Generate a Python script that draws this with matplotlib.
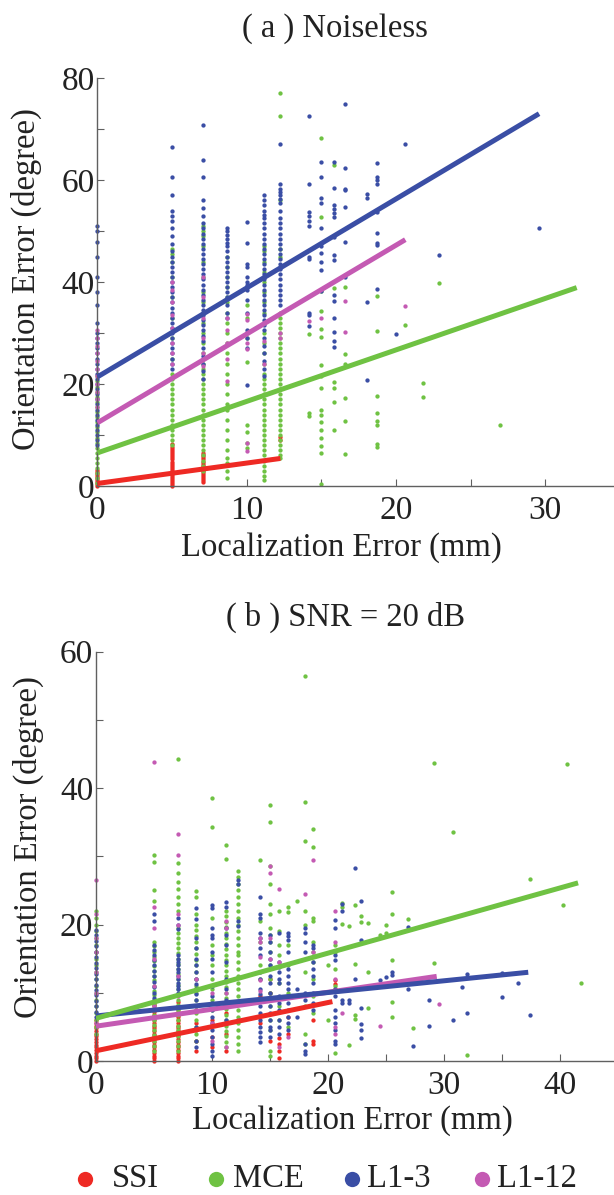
import matplotlib
matplotlib.use('Agg')
import matplotlib.pyplot as plt
from matplotlib.lines import Line2D

plt.rcParams['font.family'] = ['Liberation Serif', 'DejaVu Serif']

names = ['SSI', 'MCE', 'L1-3', 'L1-12']
colors = {'SSI': '#ee2a24', 'MCE': '#6fc243', 'L1-3': '#3a4ea5', 'L1-12': '#c45ab3'}

# ---- (a) noiseless: scatter columns, x (mm) -> orientation errors (deg)
a_ssi = {
    0: [0, 0.4, 0.8, 1.2, 1.6, 2.0, 2.4, 2.8, 3.2],
    5: [0, 0.4, 0.8, 1.2, 1.6, 2.0, 2.4, 2.8, 3.2, 3.6, 4.0, 4.4, 4.8, 5.2, 5.6, 6.0, 6.4, 6.8, 7.2, 7.6, 8.2],
    7.07: [0.8, 1.2, 1.6, 2.0, 2.4, 2.8, 3.2, 3.6, 4.0, 4.4, 4.8, 5.2, 5.6, 6.0, 6.5],
    12.25: [9.0, 9.6],
}
a_mce = {
    0: [0.5, 1.5, 2.5, 3.5, 4.5, 5.5, 6.5, 7.5, 8.5, 9.5, 10.5, 11.5, 12.5, 13.5, 14.5, 15.5, 16.5, 17.5, 18.5, 19.5, 20.5, 21.5],
    5: [46.5, 45.5, 44, 41, 37, 33, 29, 25, 22, 21, 20, 19, 18, 17, 16, 15, 14, 13, 12, 11, 10, 9, 8],
    7.07: [51, 50, 49, 47, 44, 41, 38, 36, 34, 32, 30, 28, 26, 25, 24, 23, 22, 21, 20, 19, 18, 17, 16, 15, 14, 13, 12, 11, 10, 9, 8, 7, 6, 5, 4, 3],
    8.66: [45, 43, 41, 39, 37, 36, 34, 32, 30, 28, 26, 24, 22, 20, 18, 16, 15, 13, 11, 9, 7, 5.5, 4.5, 3, 1.5],
    10: [35.5, 33, 29, 24.3, 12, 10.5, 8.5, 7.5],
    11.18: [47, 46, 44, 42, 40, 38, 36, 34, 32, 30, 28, 26, 24, 22, 21, 20, 19, 18, 17, 16, 15, 14, 13, 12, 11, 10, 9, 8, 7, 6, 5, 4, 3, 2, 1.2],
    12.25: [77, 72.5, 56, 46.5, 45, 34, 33, 32, 31, 30, 29, 28, 27, 26, 25, 24, 23, 22, 21, 20, 19, 18, 17, 16, 15, 14, 13, 12, 11, 10, 9, 8, 7, 6, 5.5],
    14.14: [29.8, 14.4, 13.8],
    15: [68.2, 52.8, 38.3, 34.4, 30.8, 29.2, 23.7, 21.6, 19.3, 15, 13.9, 12.6, 11, 9.4, 7.8, 6.5, 0.3],
    15.81: [62.9, 38.9, 20.3, 19.3, 16.4, 11.0],
    16.58: [39, 25.9, 24, 17.2, 12.7, 6.2],
    18.71: [37.3, 30.4, 17.7, 14.3, 12.7, 12, 8.2, 7.6],
    20.62: [31.6],
    21.79: [20.1, 17.4],
    22.91: [39.9],
    26.93: [12],
}
a_l13 = {
    0: [51, 50, 47.8, 45, 41, 38, 35.5, 32, 30, 29, 28, 27, 26, 25, 24, 23, 22, 21, 20, 19, 18, 17, 16, 15, 14, 13, 12, 11, 10, 9, 8],
    5: [66.5, 60.5, 57, 54, 53, 52, 50.5, 49, 47.5, 46, 45, 44, 43, 42, 41, 40, 39, 38, 37, 36, 35, 34, 33, 32, 31, 30, 29, 28, 27, 26, 25, 24, 23],
    7.07: [70.8, 64, 60.5, 56, 54.5, 53, 51.5, 50.5, 49.5, 48.5, 47.5, 46.5, 45.5, 44.5, 43.5, 42.5, 41.5, 40.5, 39.5, 38.5,
           37.5, 36.5, 35.5, 34.5, 33.5, 32.5, 31.5, 30.5, 29.5, 28.5, 27, 25.5, 24, 22.5, 21],
    8.66: [50.5, 50, 49.3, 48.5, 47.7, 47, 46, 45, 44, 43, 42, 41, 40, 39, 38, 37, 35.5, 34, 33],
    10: [51.7, 47.6, 43.6, 43, 41, 40, 39.5, 38.5, 36.5, 34, 30.5, 29, 27, 19.8],
    11.18: [57, 56, 55, 54, 53.2, 52.5, 51.5, 50.5, 49.5, 48.5, 47.5, 46.5, 45.5, 44.5, 43.5, 42.5, 41.5, 40.5, 39.5, 38.5,
            37.5, 36.5, 35.5, 34.5, 33.5, 32.5, 31.5, 30.5, 29, 27.5, 26, 24.5, 23, 21.5],
    12.25: [67, 59.3, 58.3, 57.6, 57, 56.3, 55.5, 54, 52.5, 51.5, 50.5, 49.5, 48.5, 47.5, 46.5, 45.5, 44.5, 43.5, 42.5, 41.5,
            40.5, 39.5, 38.5, 37.5, 36.5, 35.5],
    14.14: [72.6, 59.2, 53.8, 53, 52, 51, 45, 44.5, 34, 33.5, 31.4],
    15: [63.5, 60.5, 56.5, 55.4, 50.5, 47, 45.7, 44, 42.4, 38.3],
    15.81: [63.5, 58.4, 55, 54.4, 53.5, 52.8, 48.8, 45.3, 44.3, 37.5, 36.2, 33, 30.2, 28.5, 27.3],
    16.58: [74.9, 62.3, 58.3, 58, 54.7, 47.9, 41],
    18.03: [57.3, 56.4, 36, 20.8],
    18.71: [63.3, 60.6, 60, 59.3, 53.8, 49.7, 47.7, 47.3, 38.6],
    20: [29.8],
    20.62: [67],
    22.91: [45.2],
    29.58: [50.6],
}
a_l112 = {
    0: [30.5, 29, 27.5, 26, 24.5, 23, 21.5, 20, 18.5, 17, 15.5],
    5: [40, 38.5, 36, 33.5, 31, 28, 26, 24],
    7.07: [41, 37, 33, 29, 26, 23.5],
    8.66: [33, 30.5, 28, 25, 20.5],
    10: [33.8, 32.6, 28, 26.8, 8.5, 6.8],
    11.18: [28.5, 24],
    12.25: [30, 29],
    14.14: [32.3],
    15: [33],
    16.58: [36.3, 30.2],
    20.62: [35.2],
}
# fitted lines (x0, y0, x1, y1)
a_fit = {
    'L1-12': (0, 12.4, 20.62, 48.3),
    'L1-3': (0, 21.4, 29.58, 73.0),
    'MCE': (0, 6.5, 32.1, 38.9),
    'SSI': (0, 0.5, 12.25, 5.4),
}

# ---- (b) SNR = 20 dB
b_ssi = {
    0: [0, 0.4, 0.8, 1.2, 1.6, 2.0, 2.4, 2.8, 3.2, 3.6, 4.0, 4.4, 4.8, 5.2, 5.6, 6.0],
    5: [0, 0.4, 0.8, 1.2, 1.6, 2.0, 2.4, 2.8, 3.2, 3.6, 4.0, 4.4, 4.8, 5.2, 5.6, 6.0, 6.4, 6.8, 7.2, 7.6, 8.0, 8.4, 8.8],
    7.07: [0, 0.4, 0.8, 1.2, 1.6, 2.0, 2.4, 2.8, 3.2, 3.6, 4.0, 4.4, 4.8, 5.2, 5.6, 6.0, 6.4, 6.8, 7.2, 7.6, 8.0, 8.6],
    8.66: [1.5, 3, 4.5, 5.5, 7.5],
    10: [2, 3.5, 6],
    11.18: [1.5, 4, 7],
    14.14: [5.5, 9.5],
    15: [3, 10, 12],
    15.81: [0.5, 1.5, 2.5, 3.4],
    16.58: [4, 6.5],
    18.71: [2.5, 3, 6],
    20.62: [10.6, 11.3, 11.8],
}
b_mce = {
    0: [4, 5, 6, 7, 8, 9, 10, 11, 12, 13, 14, 15, 16, 17, 18, 19, 20, 21, 22],
    5: [30.2, 29.1, 25, 23.4, 17.5, 16.8, 16, 15.3, 14.6, 13.9, 13.2, 12.5, 11.8, 11, 10.3, 9.6, 8.9, 8.2, 7.5, 6.8, 6, 5.3, 4.5, 3.8, 3, 2.2, 1.5],
    7.07: [44.2, 29, 27.5, 26.3, 25.2, 24, 23, 22, 19.5, 18.8, 18, 17.3, 16.5, 15.8, 15, 14.2, 13.5, 12.8, 12, 11.2, 10.5, 9.8,
           9, 8.2, 7.5, 6.8, 6, 5.2, 4.5, 3.7, 3, 2.2, 1.5],
    8.66: [24.9, 24, 21.5, 20, 19.2, 18.3, 17.5, 16.6, 15.7, 14.8, 14, 13, 12, 11, 10, 9, 8, 7, 6, 5, 4, 3],
    10: [38.6, 34.3, 21, 17, 15.5, 14, 12, 10.5, 9, 7.5],
    11.18: [31.6, 29.6, 22, 21.2, 20.4, 19.6, 18.8, 18, 17.2, 16.4, 15.6, 14.8, 14, 13.2, 12.4, 11.6, 10.8, 10, 9.2, 8.4,
            7.6, 6.8, 6, 5.2, 4.4, 3.6, 2.8, 2],
    12.25: [27.8, 27, 26, 25, 24, 23, 22, 21, 20, 19, 18, 17, 16, 15.5, 14.5, 13.5, 12.5, 11.5, 10.5, 9.5, 8.5, 7.5, 6.5,
            5.5, 4.5, 3.5, 2.5, 1.5],
    14.14: [29.4, 20.5, 17.5, 14, 12],
    15: [37.5, 35, 28.5, 26, 23, 21.5, 19.5, 18.5, 17.5, 16, 14, 12, 10, 8, 6, 4.5, 1.5, 0.8],
    15.81: [22, 19, 17, 15.5, 11.5, 8, 6],
    16.58: [22.5, 21.8, 17, 14, 10, 5],
    17.32: [23.5],
    18.03: [56.4, 38, 32.3, 22, 20, 13, 8, 4, 2.5],
    18.71: [34, 31.3, 21, 20.5, 17.5, 16, 14.5, 12, 9.5, 7],
    20: [14, 6],
    20.62: [17, 16, 13.5, 11, 1.2],
    21.21: [23.2, 22.6, 20.1],
    21.79: [19.8, 10.5, 2.3],
    22.36: [22.8, 14.2, 6.8, 6.1],
    22.91: [21.2, 20.4],
    23.45: [20.2, 13, 7.7],
    24.49: [18.5],
    25: [18.7, 20],
    25.5: [24.8, 21.6, 14.8, 8.6, 6.4],
    26.93: [20.8],
    27.39: [4.9],
    29.15: [43.6, 14.4],
    30.82: [33.5],
    32.02: [0.9],
    37.42: [26.7],
    40.31: [22.8],
    40.62: [43.5],
    41.83: [11.4],
}
b_l13 = {
    0: [6.5, 7.2, 8, 8.8, 9.6, 10.4, 11.2, 12, 12.8, 13.6, 14.4, 15.2, 16, 16.8, 17.6, 18.4, 19.2],
    5: [21.5, 20.5, 17, 16.3, 15.5, 14.8, 14, 13.2, 12.4, 11.6, 10.8, 10, 9.2],
    7.07: [21, 20, 19.3, 15.5, 15, 14.5, 14, 13.5, 13, 12.5, 12, 11.5, 11, 10.5, 10],
    8.66: [22.4, 20.8, 18, 16.5, 15, 14, 13, 12, 11.3, 10.5, 9.8, 9, 5, 3, 2],
    10: [22.8, 22.4, 19.5, 18.5, 18, 16, 15, 13, 11, 9.5, 8.5, 7.5, 6.5, 5.5, 4.5, 3.5, 2.5, 1.5, 0.8],
    11.18: [23.3, 22.5, 19.5, 18.5, 17, 14.5, 12, 10.5, 9, 8, 6],
    12.25: [26.5, 26, 20.5, 19.8],
    14.14: [24, 21.5, 21, 18.8, 18, 16.5, 15.5, 13, 12, 10.5, 9.8, 9, 8, 7, 6, 5, 4.2, 3.5, 2.8],
    15: [18.5, 17.5, 16, 15, 14, 12.5, 11.5, 10, 9, 8, 7, 6, 5, 4.5, 3.5],
    15.81: [18.7, 14.5, 13.8, 13, 12, 11.5, 9.5, 8.5, 7.5, 6, 5, 4],
    16.58: [18.7, 18.3, 17.7, 16, 13.5, 12.5, 11.5, 10.5, 9.5, 8.5, 7.5, 6.5, 5.5, 4.5],
    17.32: [10.5, 9.5, 6.5],
    18.03: [19.5, 18.8, 17.5, 16, 10, 9, 2.5, 1.5, 1],
    18.71: [17, 16.5, 14.5, 13.5, 12.5, 11.5, 10, 8.5, 7.5],
    20.62: [20.6, 19.5, 15.5, 14.8, 10.5, 9.5, 7.5, 6.5, 5.5, 4.5, 3, 2.5],
    21.21: [23, 22, 9, 8.5],
    21.79: [9, 8.5],
    22.36: [28.3, 12],
    22.91: [23.4, 17.8, 7.8, 5.4, 4.5, 3.4],
    24.49: [11.8],
    25: [12.3],
    25.5: [13, 12.6],
    26.93: [19.6, 10.6],
    27.39: [2.2],
    28.72: [9, 5.1],
    30.82: [6],
    31.62: [10.9],
    32.02: [12.8, 7],
    35: [12.9, 9.4],
    36.4: [11.5],
    37.42: [6.7],
}
b_l112 = {
    0: [26.5, 21.5, 18, 16, 13, 10, 5.5],
    5: [43.8, 22.5, 19.5, 15, 11, 8],
    7.07: [33.3, 30.2, 21.5, 20, 12.5, 9.5],
    8.66: [12, 7.5],
    10: [10, 5.5, 3],
    11.18: [20.5, 19.5, 10, 2],
    12.25: [6],
    14.14: [18, 17.5, 15.3, 11.8, 10.3],
    15: [28.5, 27.5, 18, 15],
    15.81: [25.2, 14.5, 2],
    16.58: [3.5],
    18.03: [24.5],
    18.71: [29.4, 16],
    20.62: [22, 17.5, 12, 5, 4],
    21.21: [7],
    24.49: [5.2],
    29.58: [8.4],
}
b_fit = {
    'L1-12': (0, 5.1, 29.4, 12.4),
    'L1-3': (0, 6.6, 37.3, 13.0),
    'MCE': (0, 6.25, 41.6, 26.1),
    'SSI': (0, 1.5, 20.4, 8.7),
}


def expand(cols):
    xs, ys = [], []
    for x, vals in cols.items():
        xs += [x] * len(vals)
        ys += vals
    return xs, ys


def draw(ax, series, fits, xmax, ymax, yticks, ylabels):
    for name in ['SSI', 'MCE', 'L1-3', 'L1-12']:
        xs, ys = expand(series[name])
        ax.plot(xs, ys, 'o', ms=3.1, mew=0, color=colors[name], clip_on=False, zorder=2)
    for name in ['L1-12', 'L1-3', 'MCE', 'SSI']:
        x0, y0, x1, y1 = fits[name]
        ax.plot([x0, x1], [y0, y1], '-', lw=3.6, color=colors[name], solid_capstyle='butt', zorder=3)
    ax.set_xlim(0, xmax)
    ax.set_ylim(0, ymax)
    for s in ['top', 'right']:
        ax.spines[s].set_visible(False)
    for s in ['left', 'bottom']:
        ax.spines[s].set_color('#606060')
        ax.spines[s].set_linewidth(1.0)
    ax.set_xticks(list(range(0, int(xmax) + 1, 5)))
    ax.set_xticklabels([str(v) if v % 10 == 0 else '' for v in range(0, int(xmax) + 1, 5)])
    ax.set_yticks(yticks)
    ax.set_yticklabels(ylabels)
    ax.tick_params(direction='in', length=5, width=0.8, color='#606060', labelsize=24, labelcolor='#222222')
    ax.tick_params(axis='y', pad=2)
    ax.tick_params(axis='x', pad=7)


fig = plt.figure(figsize=(6.14, 11.95), dpi=100)
W, H = 614, 1195

ax_a = fig.add_axes([97.5 / W, 1 - 486 / H, (W - 97.5) / W, (486 - 78) / H])
draw(ax_a, {'SSI': a_ssi, 'MCE': a_mce, 'L1-3': a_l13, 'L1-12': a_l112}, a_fit,
     34.6, 80, [0, 10, 20, 30, 40, 50, 60, 70, 80], ['0', '', '20', '', '40', '', '60', '', '80'])

ax_b = fig.add_axes([96 / W, 1 - 1061 / H, (W - 96) / W, (1061 - 651.5) / H])
draw(ax_b, {'SSI': b_ssi, 'MCE': b_mce, 'L1-3': b_l13, 'L1-12': b_l112}, b_fit,
     44.7, 60, [0, 10, 20, 30, 40, 50, 60], ['0', '', '20', '', '40', '', '60'])

txt = dict(color='#222222', ha='center', va='center')
fig.text(335 / W, 1 - 29 / H, '( a ) Noiseless', fontsize=23.5, **txt)
fig.text(341 / W, 1 - 548 / H, 'Localization Error (mm)', fontsize=23.5, **txt)
fig.text(26 / W, 1 - 279 / H, 'Orientation Error (degree)', fontsize=23.5, rotation=90, **txt)
fig.text(346 / W, 1 - 617 / H, '( b ) SNR = 20 dB', fontsize=23.5, **txt)
fig.text(352 / W, 1 - 1121 / H, 'Localization Error (mm)', fontsize=23.5, **txt)
fig.text(28 / W, 1 - 847 / H, 'Orientation Error (degree)', fontsize=23.5, rotation=90, **txt)

# legend row along the bottom
leg_marker_x = [85, 216, 352, 482]
leg_text_x = [112, 233, 367, 497]
leg_y = 1 - 1179 / H
for name, mx, tx in zip(names, leg_marker_x, leg_text_x):
    fig.add_artist(Line2D([mx / W], [leg_y], transform=fig.transFigure, ls='', marker='o',
                          ms=11, mew=0, color=colors[name]))
    fig.text(tx / W, leg_y, name, fontsize=23.5, color='#222222', ha='left', va='center')

fig.savefig('out.png', dpi=100)
